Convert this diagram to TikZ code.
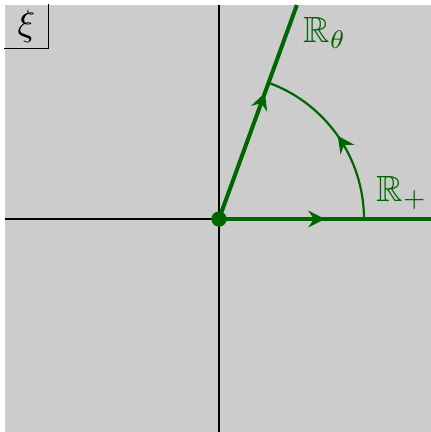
\documentclass[tikz,border=0pt]{standalone}
\usepackage{amssymb}
\usetikzlibrary{arrows.meta,decorations.markings}
\definecolor{dgreen}{RGB}{0,102,0}
\definecolor{bggrey}{RGB}{204,204,204}
\tikzset{
  axisline/.style={black,line width=0.4pt},
  rayline/.style={dgreen,line width=1.1pt},
  arcline/.style={dgreen,line width=0.6pt},
  midarrow/.style={postaction={decorate},decoration={markings,mark=at position #1 with {\arrow{Stealth[length=4.6pt,width=4.6pt,inset=1.6pt]}}}},
  glabel/.style={text=dgreen,inner sep=0pt}
}
\begin{document}
\begin{tikzpicture}[x=0.274pt,y=0.274pt]
\useasboundingbox (-219,-213) rectangle (212,219);
\fill[bggrey] (-214,-213) rectangle (212,214);
\coordinate (O) at (0,0);
\coordinate (xl) at (-214,0);
\coordinate (xr) at (212,0);
\coordinate (yb) at (0,-213);
\coordinate (yt) at (0,214);
\coordinate (rt) at (70:227.7);
\coordinate (a0) at (0:145);
\draw[axisline] (xl) -- (xr);
\draw[axisline] (yb) -- (yt);
\draw[rayline,midarrow=0.5] (O) -- (xr);
\draw[rayline,midarrow=0.59] (O) -- (rt);
\draw[arcline,midarrow=0.5] (a0) arc[start angle=0,end angle=70,radius=145];
\fill[dgreen] (O) circle[radius=2.1pt];
\node[inner sep=0pt,minimum size=43*0.274pt] (xi) at (-192.5,192.5) {$\xi$};
\draw[axisline] (xi.north east) -- (xi.south east) -- (xi.south west);
\node[glabel] (Rt) at (106,186) {$\mathbb{R}_\theta$};
\node[glabel] (Rp) at (183,26) {$\mathbb{R}_+$};
\end{tikzpicture}
\end{document}
